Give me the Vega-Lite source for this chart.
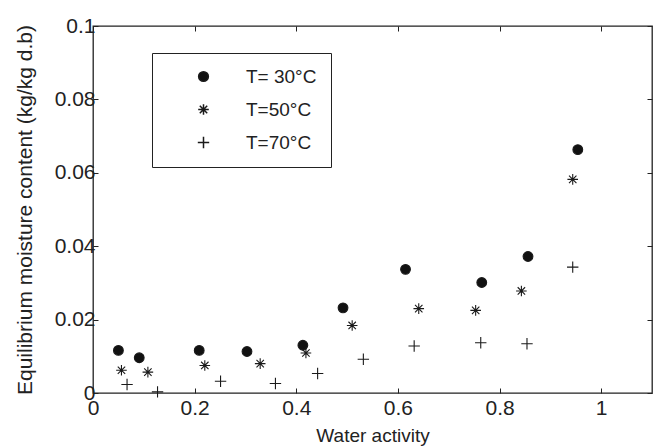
{
  "$schema": "https://vega.github.io/schema/vega-lite/v6.json",
  "width": 559,
  "height": 367,
  "autosize": "none",
  "padding": {"left": 93, "top": 26, "right": 1, "bottom": 53},
  "background": "white",
  "config": {
    "font": "Liberation Sans",
    "view": {"stroke": "#222", "strokeWidth": 1.3},
    "axis": {
      "grid": false,
      "domain": false,
      "ticks": true,
      "tickSize": -5,
      "tickColor": "#222",
      "tickWidth": 1,
      "labelColor": "#222",
      "titleColor": "#222",
      "labelFont": "Liberation Sans",
      "titleFont": "Liberation Sans",
      "titleFontWeight": "normal",
      "labelFontSize": 21,
      "format": "~g"
    },
    "legend": {
      "orient": "none",
      "legendX": 59,
      "legendY": 27,
      "strokeColor": "#222",
      "strokeWidth": 1,
      "padding": 14,
      "cornerRadius": 0,
      "labelFontSize": 19,
      "labelColor": "#222",
      "labelFont": "Liberation Sans",
      "rowPadding": 13,
      "symbolOffset": 28,
      "labelOffset": 33
    }
  },
  "data": {
    "values": [
      {"T": "T= 30°C", "aw": 0.050, "emc": 0.0116},
      {"T": "T= 30°C", "aw": 0.091, "emc": 0.0096},
      {"T": "T= 30°C", "aw": 0.209, "emc": 0.0116},
      {"T": "T= 30°C", "aw": 0.303, "emc": 0.0113},
      {"T": "T= 30°C", "aw": 0.413, "emc": 0.0130},
      {"T": "T= 30°C", "aw": 0.492, "emc": 0.0232},
      {"T": "T= 30°C", "aw": 0.615, "emc": 0.0337},
      {"T": "T= 30°C", "aw": 0.765, "emc": 0.0301},
      {"T": "T= 30°C", "aw": 0.856, "emc": 0.0372},
      {"T": "T= 30°C", "aw": 0.954, "emc": 0.0663},
      {"T": "T=50°C", "aw": 0.056, "emc": 0.0062},
      {"T": "T=50°C", "aw": 0.108, "emc": 0.0057},
      {"T": "T=50°C", "aw": 0.220, "emc": 0.0075},
      {"T": "T=50°C", "aw": 0.329, "emc": 0.0080},
      {"T": "T=50°C", "aw": 0.419, "emc": 0.0109},
      {"T": "T=50°C", "aw": 0.510, "emc": 0.0184},
      {"T": "T=50°C", "aw": 0.641, "emc": 0.0230},
      {"T": "T=50°C", "aw": 0.753, "emc": 0.0225},
      {"T": "T=50°C", "aw": 0.843, "emc": 0.0278},
      {"T": "T=50°C", "aw": 0.944, "emc": 0.0582},
      {"T": "T=70°C", "aw": 0.067, "emc": 0.0023},
      {"T": "T=70°C", "aw": 0.127, "emc": 0.0003},
      {"T": "T=70°C", "aw": 0.251, "emc": 0.0032},
      {"T": "T=70°C", "aw": 0.359, "emc": 0.0026},
      {"T": "T=70°C", "aw": 0.442, "emc": 0.0053},
      {"T": "T=70°C", "aw": 0.532, "emc": 0.0092},
      {"T": "T=70°C", "aw": 0.632, "emc": 0.0128},
      {"T": "T=70°C", "aw": 0.763, "emc": 0.0137},
      {"T": "T=70°C", "aw": 0.854, "emc": 0.0134},
      {"T": "T=70°C", "aw": 0.944, "emc": 0.0343}
    ]
  },
  "layer": [
    {
      "mark": {"type": "point", "filled": false, "fill": "#111111", "stroke": "#1a1a1a", "strokeWidth": 1.1, "opacity": 1},
      "encoding": {
        "x": {
          "field": "aw", "type": "quantitative",
          "scale": {"domain": [0, 1.1], "nice": false, "zero": false},
          "axis": {"orient": "bottom", "title": "Water activity", "titleFontSize": 19, "titlePadding": 8, "values": [0, 0.2, 0.4, 0.6, 0.8, 1], "labelPadding": 9, "labelFlush": false, "labelOverlap": false}
        },
        "y": {
          "field": "emc", "type": "quantitative",
          "scale": {"domain": [0, 0.1], "nice": false, "zero": false},
          "axis": {"orient": "left", "title": "Equilibrium moisture content (kg/kg d.b)", "titleFontSize": 21, "titlePadding": 19, "values": [0, 0.02, 0.04, 0.06, 0.08, 0.1], "labelPadding": 3, "labelFlush": false, "labelOverlap": false}
        },
        "shape": {
          "field": "T", "type": "nominal",
          "scale": {"domain": ["T= 30°C", "T=50°C", "T=70°C"], "range": ["circle", "M-1,0L1,0M0,-1L0,1M-0.7,-0.7L0.7,0.7M-0.7,0.7L0.7,-0.7", "M-1,0L1,0M0,-1L0,1"]},
          "legend": {"title": null, "encode": {"symbols": {"update": {"stroke": {"value": "#1a1a1a"}, "strokeWidth": {"value": 1.1}, "strokeOpacity": {"value": 1}, "opacity": {"value": 1}}}}}
        },
        "fillOpacity": {
          "field": "T", "type": "nominal",
          "scale": {"domain": ["T= 30°C", "T=50°C", "T=70°C"], "range": [1, 0, 0]},
          "legend": {"title": null}
        },
        "size": {
          "field": "T", "type": "nominal",
          "scale": {"domain": ["T= 30°C", "T=50°C", "T=70°C"], "range": [95, 130, 160]},
          "legend": {"title": null}
        }
      }
    },
    {
      "mark": {"type": "point", "opacity": 0},
      "encoding": {
        "x": {
          "field": "aw", "type": "quantitative",
          "scale": {"domain": [0, 1.1], "nice": false, "zero": false},
          "axis": {"orient": "top", "title": null, "labels": false, "values": [0, 0.2, 0.4, 0.6, 0.8, 1]}
        },
        "y": {
          "field": "emc", "type": "quantitative",
          "scale": {"domain": [0, 0.1], "nice": false, "zero": false},
          "axis": {"orient": "right", "title": null, "labels": false, "values": [0, 0.02, 0.04, 0.06, 0.08, 0.1]}
        }
      }
    }
  ],
  "resolve": {"axis": {"x": "independent", "y": "independent"}}
}
